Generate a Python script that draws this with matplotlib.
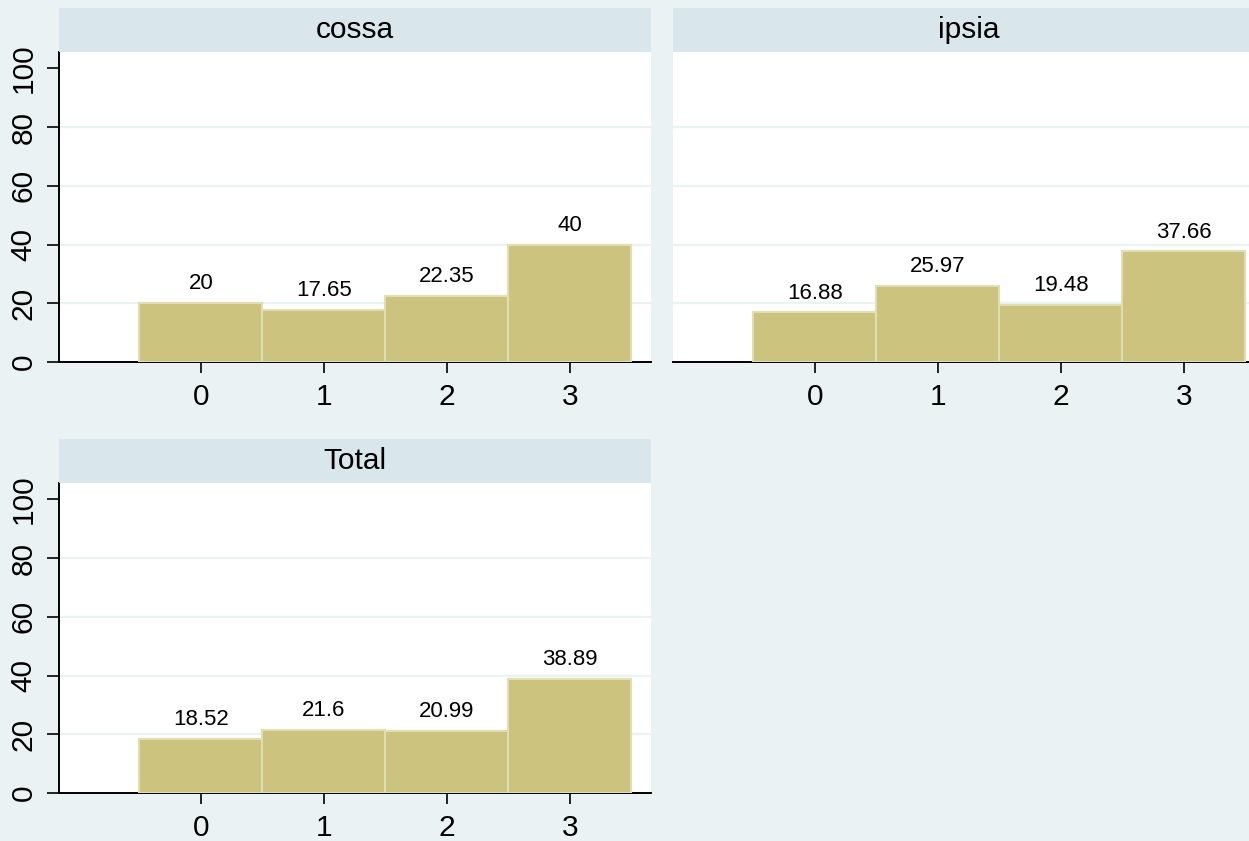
import matplotlib.pyplot as plt

plt.rcParams['font.family'] = ['Liberation Sans', 'DejaVu Sans']

# categories and percentages per panel
categories = [0, 1, 2, 3]
panel_titles = ['cossa', 'ipsia', 'Total']
cossa_pct = [20, 17.65, 22.35, 40]
ipsia_pct = [16.88, 25.97, 19.48, 37.66]
total_pct = [18.52, 21.6, 20.99, 38.89]
yticks = [0, 20, 40, 60, 80, 100]

bg = '#EAF2F3'
strip_col = '#D9E6EC'
bar_col = '#CBC37E'
bar_edge = '#E2DEB3'

W, H = 1249, 841
fig = plt.figure(figsize=(W / 100, H / 100), dpi=100, facecolor=bg)

# panel boxes in pixels: left, axis-bottom(y from top), width, height
panel_w, panel_h, strip_h = 592, 310.3, 43.7
panels = [
    (59, 362, cossa_pct, panel_titles[0], True),
    (673, 362, ipsia_pct, panel_titles[1], False),
    (59, 793, total_pct, panel_titles[2], True),
]

for left, bottom, values, title, show_y in panels:
    ax = fig.add_axes([left / W, (H - bottom) / H, panel_w / W, panel_h / H])
    ax.set_facecolor('white')
    ax.bar(categories, values, width=1.0, color=bar_col, edgecolor=bar_edge,
           linewidth=1.5, zorder=3)
    for x, v in zip(categories, values):
        ax.annotate(f'{v:g}', (x, v), xytext=(0, 10), textcoords='offset points',
                    ha='center', va='baseline', fontsize=16, color='black')
    ax.set_xlim(-1.154, 3.659)
    ax.set_ylim(0, 105.7)
    for g in [20, 40, 60, 80]:
        ax.axhline(g, color=bg, linewidth=1.6, zorder=1)
    ax.set_xticks(categories)
    ax.tick_params(axis='x', length=8, width=1.2, pad=7, labelsize=21.5)
    for s in ['top', 'right']:
        ax.spines[s].set_visible(False)
    ax.spines['bottom'].set_linewidth(1.4)
    if show_y:
        ax.set_yticks(yticks)
        ax.tick_params(axis='y', length=8.5, width=1.2, pad=7, labelsize=21.5,
                       labelrotation=90)
        for lab in ax.get_yticklabels():
            lab.set_va('center')
        ax.spines['left'].set_linewidth(1.4)
    else:
        ax.set_yticks([])
        ax.spines['left'].set_visible(False)

    # strip title
    sax = fig.add_axes([left / W, (H - bottom + panel_h) / H, panel_w / W, strip_h / H])
    sax.set_facecolor(strip_col)
    sax.set_xticks([])
    sax.set_yticks([])
    for s in sax.spines.values():
        s.set_visible(False)
    sax.text(0.5, 0.5, title, ha='center', va='center', fontsize=21.5,
             transform=sax.transAxes)

fig.savefig('out.png', dpi=100, facecolor=bg)
